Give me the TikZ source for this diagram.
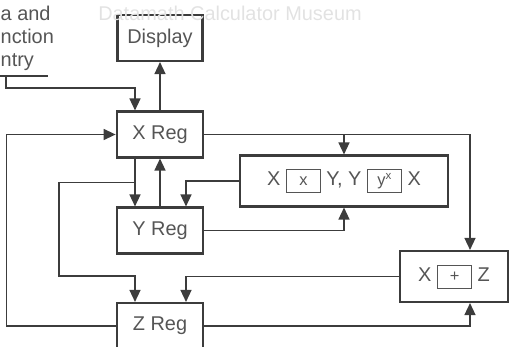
\documentclass[tikz,border=0pt]{standalone}
\usepackage{fontspec}
\setmainfont{Liberation Sans}
\usetikzlibrary{arrows.meta,calc}

\definecolor{ink}{HTML}{3C3C3C}
\definecolor{inktext}{HTML}{555555}
\definecolor{wmark}{HTML}{E2E2E2}

\newcommand{\calckey}[1]{{\setlength{\fboxrule}{0.6pt}\setlength{\fboxsep}{1.5pt}\framebox[1.05cm]{\rule[-4pt]{0pt}{16pt}\fontsize{14}{15}\selectfont #1}}}

\tikzset{
  regbox/.style={draw=ink, line width=1.8pt, minimum width=2.6cm, minimum height=1.38cm, inner sep=0pt, text=inktext},
  opbox/.style={draw=ink, line width=1.8pt, inner sep=0pt, text=inktext},
}

\begin{document}
\begin{tikzpicture}[x=0.03cm, y=-0.03cm, line width=1.2pt, draw=ink,
  >={Triangle[length=0.36cm, width=0.33cm]},
  every node/.style={font=\fontsize{17}{23}\selectfont}]
\useasboundingbox (0,0) rectangle (510,347);

% registers
\node[regbox, minimum width=2.55cm] (disp) at (160,38) {Display};
\node[regbox] (xreg) at (160,134.5) {X Reg};
\node[regbox] (yreg) at (160,230.5) {Y Reg};
\node[regbox] (zreg) at (160,326) {Z Reg};

% operations
\node[opbox, minimum width=6.24cm, minimum height=1.53cm] (xy) at (344,181)
  {X \calckey{x} Y, Y \calckey{y\textsuperscript{x}} X};
\node[opbox, minimum width=3.24cm, minimum height=1.53cm] (xz) at (454,276.5)
  {X \calckey{+} Z};

% entry text
\node[anchor=north west, align=left, inner sep=0pt, text=inktext,
  font=\fontsize{17}{20}\selectfont] (entrytxt) at (0,5)
  {a and\\ nction\\ ntry};
\draw (0,76) -- (48,76);
\coordinate (entry) at (6,76);

% connections
\draw[->] (entry) -- ++(0,12) -| ($(xreg.north)+(-25,0)$);
\draw[->] (xreg.north) -- (disp.south);
\draw[->] (zreg.west) -- ++(-109,0) |- (xreg.west);
\draw[->] (xreg.east) -| ($(xz.north)+(16,0)$);
\draw[->] (xreg.east -| xy.north) -- (xy.north);
\draw[->] ($(xreg.south)+(-25,0)$) -- ($(yreg.north)+(-25,0)$);
\draw[->] (yreg.north) -- (xreg.south);
\draw[->] ($(xreg.south)+(-25,24)$) -- ++(-76,0) |- ($(zreg.north)+(-25,-26)$) -- ($(zreg.north)+(-25,0)$);
\draw[->] (xy.west) -| ($(yreg.north)+(26,0)$);
\draw[->] (yreg.east) -| (xy.south);
\draw[->] (xz.west) -| ($(zreg.north)+(26,0)$);
\draw[->] (zreg.east) -| ($(xz.south)+(16,0)$);

\node[text=wmark] (museum) at (230,13) {Datamath Calculator Museum};
\end{tikzpicture}
\end{document}
